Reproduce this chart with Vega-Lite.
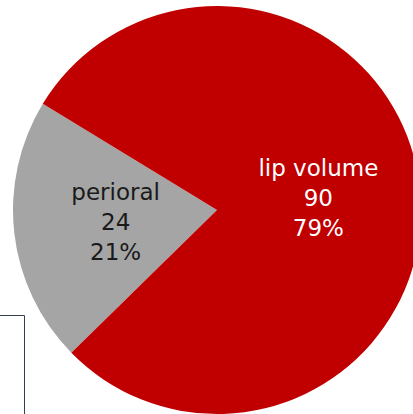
{
  "$schema": "https://vega.github.io/schema/vega-lite/v6.json",
  "width": 434,
  "height": 420,
  "padding": 0,
  "autosize": {"type": "none"},
  "background": "white",
  "config": {"view": {"stroke": null}},
  "data": {
    "values": [
      {"category": "perioral", "count": 24, "pct": "21%", "rank": 1},
      {"category": "lip volume", "count": 90, "pct": "79%", "rank": 2}
    ]
  },
  "transform": [
    {"calculate": "datum.category + '\\n' + datum.count + '\\n' + datum.pct", "as": "label"}
  ],
  "encoding": {
    "theta": {"field": "count", "type": "quantitative", "stack": true, "scale": {"range": [3.937, 10.220]}},
    "order": {"field": "rank", "type": "quantitative"}
  },
  "layer": [
    {
      "mark": {"type": "arc", "outerRadius": 204, "stroke": null},
      "encoding": {
        "color": {
          "field": "category",
          "type": "nominal",
          "scale": {"domain": ["lip volume", "perioral"], "range": ["#C00000", "#A5A5A5"]},
          "legend": {
            "orient": "none",
            "legendX": -40,
            "legendY": 315,
            "strokeColor": "#333f4f",
            "padding": 25,
            "title": null,
            "labelExpr": "''",
            "symbolOpacity": 0,
            "symbolStrokeWidth": 0,
            "rowPadding": 100
          }
        }
      }
    },
    {
      "mark": {"type": "text", "radius": 102, "dy": -29, "fontSize": 23, "lineHeight": 30, "lineBreak": "\n", "font": "DejaVu Sans", "baseline": "middle", "align": "center"},
      "encoding": {
        "text": {"field": "label", "type": "nominal"},
        "color": {"condition": {"test": "datum.category === 'lip volume'", "value": "#ffffff"}, "value": "#1a1a1a"}
      }
    }
  ]
}
